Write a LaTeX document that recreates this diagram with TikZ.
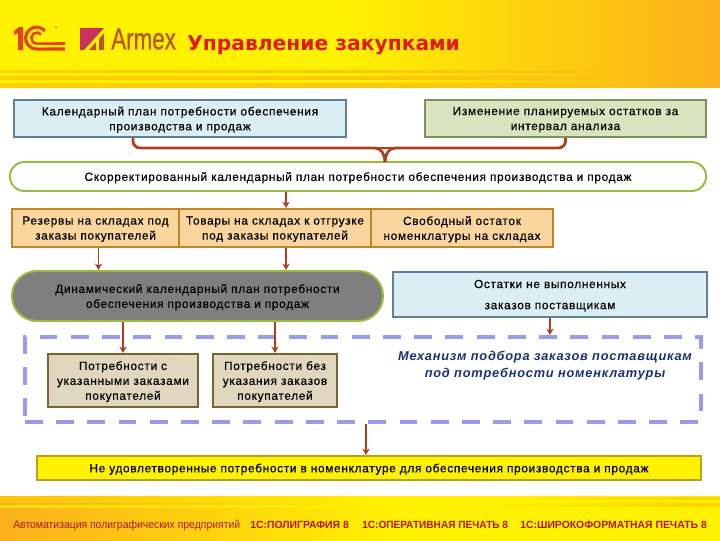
\documentclass[tikz,border=0pt]{standalone}
\usepackage{fontspec}
\setmainfont{Liberation Sans}
\newfontfamily\titlefont{DejaVu Sans}
\newfontfamily\boxfont[LetterSpace=6,FakeBold=0.5]{Liberation Sans}
\newfontfamily\mechfont[LetterSpace=6]{Liberation Sans}
\newfontfamily\logofont[FakeBold=0.8]{Liberation Sans}
\usepackage{xcolor}
\usetikzlibrary{arrows.meta,calc,shapes.misc}
\definecolor{hdryellow}{HTML}{FFF200}
\definecolor{hdrorange}{HTML}{FBB01B}
\definecolor{hdrfade}{HTML}{FCC313}
\definecolor{stripegold}{HTML}{FFD000}
\definecolor{stripepale}{HTML}{FFDA10}
\definecolor{footgold}{HTML}{F9C20F}
\definecolor{logored}{HTML}{E2421C}
\definecolor{armexred}{HTML}{C9335F}
\definecolor{armexbrown}{HTML}{BC5628}
\definecolor{rust}{HTML}{A9401F}
\definecolor{footred}{HTML}{B3161C}
\tikzset{
  basebox/.style={draw,line width=1.4pt,inner sep=0pt,align=center,text depth=0pt,font=\boxfont\fontsize{8.4}{10.6}\selectfont},
  bluebox/.style={basebox,fill={rgb,255:red,219;green,238;blue,244},draw={rgb,255:red,94;green,128;blue,158}},
  greenbox/.style={basebox,fill={rgb,255:red,215;green,228;blue,190},draw={rgb,255:red,124;green,146;blue,94}},
  stockbox/.style={basebox,fill={rgb,255:red,250;green,214;blue,158},draw={rgb,255:red,190;green,134;blue,40}},
  needbox/.style={basebox,fill={rgb,255:red,224;green,215;blue,190},draw={rgb,255:red,122;green,100;blue,50}},
  capsule/.style={basebox,rounded rectangle,draw={rgb,255:red,155;green,187;blue,60}},
  link/.style={-{Stealth[length=4.6pt,width=5.2pt]},draw=rust,line width=1.4pt},
  bracket/.style={draw=rust,line width=2pt},
  footlabel/.style={anchor=west,inner sep=0pt,text=footred,font=\bfseries\fontsize{7.4}{9}\selectfont}
}
\begin{document}
\begin{tikzpicture}[x=0.025cm,y=-0.025cm,>=Stealth]
  \useasboundingbox (0,0) rectangle (720,540);
  % header band
  \fill[hdryellow] (0,0) rectangle (340,87);
  \shade[left color=hdryellow,right color=hdrorange] (340,0) rectangle (720,87);
  \foreach \ya/\yb in {70/72.7,76/79.3,83/87}
    \shade[left color=stripegold,middle color=stripepale,right color=hdrfade] (0,\ya) rectangle (610,\yb);
  % footer band
  \shade[left color=hdrorange,right color=hdryellow] (0,496) rectangle (400,541);
  \fill[hdryellow] (400,496) rectangle (720,541);
  \shade[left color=footgold,right color=hdryellow] (0,496) rectangle (400,502.5);
  \shade[left color=stripepale,right color=hdryellow] (0,505) rectangle (400,507);
  \shade[left color=hdryellow,right color=stripegold] (480,497) rectangle (720,499.5);
  \shade[left color=hdryellow,right color=stripegold] (480,503) rectangle (720,506);
  % 1C logo
  \fill[logored] (14,31) -- (19,27) -- (23,27) -- (23,50) -- (18,50) -- (18,33) -- (14,35) -- cycle;
  \draw[logored,line width=2.2pt] (45,31) arc[start angle=-40,end angle=-270,radius=11] -- (65,49);
  \draw[logored,line width=1.8pt] (41,34.5) arc[start angle=-40,end angle=-270,radius=5.5] -- (65,43.5);
  \fill[logored] (56,27) circle (1);
  % Armex logo
  \fill[armexred] (80,28) -- (104,28) -- (84,50) -- (80,50) -- cycle;
  \fill[armexbrown] (104,33) -- (104,50) -- (99,50) -- (99,39) -- cycle;
  \fill[armexbrown] (96,42) -- (96,50) -- (89,50) -- cycle;
  \node[anchor=west,inner sep=0pt,text=armexbrown,font=\logofont\fontsize{21.5}{24}\selectfont] (armex) at (111,39) {\scalebox{0.74}[1]{Armex}};
  \node[anchor=west,inner sep=0pt,text={rgb,255:red,224;green,27;blue,27},font=\titlefont\bfseries\fontsize{14.4}{17}\selectfont] (title) at (187,45) {Управление закупками};
  % boxes
  \node[bluebox,minimum width=8.3cm,minimum height=0.925cm] (plan) at (180,118.5) {Календарный план потребности обеспечения\\производства и продаж};
  \node[greenbox,minimum width=7.025cm,minimum height=0.925cm] (change) at (565.5,118.5) {Изменение планируемых остатков за\\интервал анализа};
  \node[capsule,minimum width=17.4cm,minimum height=0.725cm] (korr) at (358,176.5) {Скорректированный календарный план потребности обеспечения производства и продаж};
  \node[stockbox,minimum width=4.175cm,minimum height=0.95cm] (rez) at (95.5,228) {Резервы на складах под\\заказы покупателей};
  \node[stockbox,minimum width=4.8cm,minimum height=0.95cm] (tov) at (275,228) {Товары на складах к отгрузке\\под заказы покупателей};
  \node[stockbox,minimum width=4.55cm,minimum height=0.95cm] (free) at (462,228) {Свободный остаток\\номенклатуры на складах};
  \node[capsule,fill={rgb,255:red,127;green,127;blue,127},minimum width=9.275cm,minimum height=1.25cm] (dyn) at (197.5,296) {Динамический календарный план потребности\\обеспечения производства и продаж};
  \node[bluebox,minimum width=7.85cm,minimum height=1.125cm,font=\boxfont\fontsize{8.4}{15}\selectfont] (ost) at (550,294.5) {Остатки не выполненных\\заказов поставщикам};
  \node[draw={rgb,255:red,155;green,155;blue,235},line width=2.8pt,dash pattern=on 12.7pt off 9.5pt,minimum width=16.9cm,minimum height=2.125cm] (frame) at (363,379.5) {};
  \node[needbox,minimum width=3.75cm,minimum height=1.325cm] (potr) at (123,380.5) {Потребности с\\указанными заказами\\покупателей};
  \node[needbox,minimum width=3.1cm,minimum height=1.325cm] (bez) at (275,380.5) {Потребности без\\указания заказов\\покупателей};
  \node[inner sep=0pt,align=center,text={rgb,255:red,24;green,48;blue,120},font=\mechfont\bfseries\itshape\fontsize{9.1}{12}\selectfont] (mech) at (545,365.5) {Механизм подбора заказов поставщикам\\под потребности номенклатуры};
  \node[basebox,fill=yellow,draw={rgb,255:red,190;green,160;blue,30},minimum width=16.6cm,minimum height=0.6cm] (neud) at (369,468) {Не удовлетворенные потребности в номенклатуре для обеспечения производства и продаж};
  % footer labels
  \node[footlabel,font=\fontsize{8}{9}\selectfont] (auto) at (13,525) {\scalebox{0.925}[1]{Автоматизация полиграфических предприятий}};
  \node[footlabel] (poli) at (250,525) {1С:ПОЛИГРАФИЯ 8};
  \node[footlabel] (oper) at (362,525) {\scalebox{0.97}[1]{1С:ОПЕРАТИВНАЯ ПЕЧАТЬ 8}};
  \node[footlabel] (wide) at (520,525) {1С:ШИРОКОФОРМАТНАЯ ПЕЧАТЬ 8};
  % connectors
  \coordinate (planout) at ([xshift=-1.175cm]plan.south);
  \coordinate (changeout) at (change.south);
  \coordinate (joinl) at (375,148);
  \coordinate (joinr) at (395,148);
  \coordinate (korrin) at (385,162);
  \draw[bracket,rounded corners=5pt] (planout) |- (joinl);
  \draw[bracket,rounded corners=5pt] (changeout) |- (joinr);
  \draw[bracket] (joinl) -- (joinr);
  \draw[bracket] (joinl) to[out=0,in=90] (korrin);
  \draw[bracket] (joinr) to[out=180,in=90] (korrin);
  \coordinate (korrout) at ([xshift=-1.8cm]korr.south);
  \coordinate (rezout) at ([xshift=0.075cm]rez.south);
  \coordinate (tovout) at ([xshift=0.275cm]tov.south);
  \draw[link] (korrout) -- (korrout |- tov.north);
  \draw[link] (rezout) -- (rezout |- dyn.north);
  \draw[link] (tovout) -- (tovout |- dyn.north);
  \draw[link] (potr.north |- dyn.south) -- (potr.north);
  \draw[link] (bez.north |- dyn.south) -- (bez.north);
  \draw[link] (ost.south) -- (ost.south |- frame.north);
  \coordinate (frameout) at ([xshift=0.075cm]frame.south);
  \draw[link] (frameout) -- (frameout |- neud.north);
\end{tikzpicture}
\end{document}
